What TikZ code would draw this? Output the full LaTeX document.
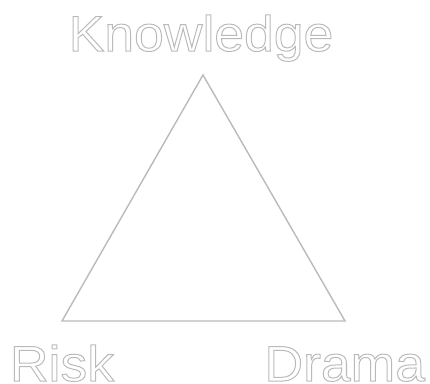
\documentclass[tikz,border=0pt]{standalone}
\usepackage{fontspec}
\setmainfont{Liberation Sans}[FakeStretch=1.07]
\newcommand{\outlinetext}[1]{\special{pdf:literal direct 1 Tr 1.0 w}#1\special{pdf:literal direct 0 Tr}}
\begin{document}
\begin{tikzpicture}[x=1pt,y=-1pt,
  lbl/.style={inner sep=0pt, outer sep=0pt, text depth=0pt, text=black!27, font=\fontsize{50}{50}\selectfont},
  edge/.style={draw=black!27, line width=1.4pt, line join=miter}]
\useasboundingbox (0,0) rectangle (430,383);
\coordinate (top) at (203,75);
\coordinate (bl) at (62,321);
\coordinate (br) at (345,321);
\draw[edge] (top) -- (bl) -- (br) -- cycle;
\node[lbl, anchor=base] (k) at (201,51) {\outlinetext{Knowledge}};
\node[lbl, anchor=base west] (r) at (10,381) {\outlinetext{Risk}};
\node[lbl, anchor=base east] (d) at (425,381) {\outlinetext{Drama}};
\end{tikzpicture}
\end{document}
